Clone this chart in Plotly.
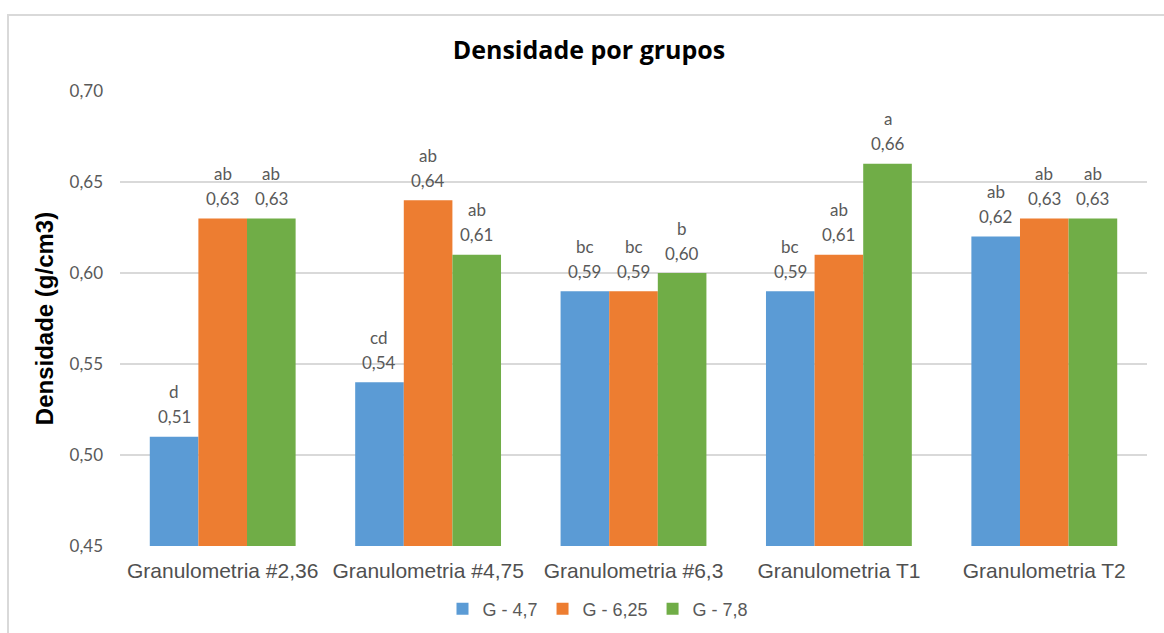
import plotly.graph_objects as go

categories = ["Granulometria #2,36", "Granulometria #4,75", "Granulometria #6,3",
              "Granulometria T1", "Granulometria T2"]
series_names = ["G - 4,7", "G - 6,25", "G - 7,8"]
vals_47 = [0.51, 0.54, 0.59, 0.59, 0.62]
vals_625 = [0.63, 0.64, 0.59, 0.61, 0.63]
vals_78 = [0.63, 0.61, 0.60, 0.66, 0.63]
letters_47 = ["d", "cd", "bc", "bc", "ab"]
letters_625 = ["ab", "ab", "bc", "ab", "ab"]
letters_78 = ["ab", "ab", "b", "a", "ab"]
y_ticks = [0.45, 0.50, 0.55, 0.60, 0.65, 0.70]

colors = ["#5B9BD5", "#ED7D31", "#70AD47"]
series_vals = [vals_47, vals_625, vals_78]
series_letters = [letters_47, letters_625, letters_78]

BARGAP = 0.29
W = 1164
H = 633
ML, MR, MT, MB = 120, 17, 91, 87
label_font = dict(family="Lato, Open Sans, sans-serif", size=17, color="#595959")

fig = go.Figure()
for name, vals, col in zip(series_names, series_vals, colors):
    fig.add_trace(go.Bar(
        x=categories, y=vals, name=name,
        marker=dict(color=col, line=dict(width=0)),
        base=0,
    ))

bw = (1 - BARGAP) / len(series_vals)
annotations = []
for s, (vals, lets) in enumerate(zip(series_vals, series_letters)):
    off = (s - (len(series_vals) - 1) / 2) * bw
    for i, (v, l) in enumerate(zip(vals, lets)):
        annotations.append(dict(x=i + off, y=v, xref="x", yref="y",
                                text=f"{v:.2f}".replace(".", ","), showarrow=False,
                                yanchor="middle", yshift=20, font=label_font))
        annotations.append(dict(x=i + off, y=v, xref="x", yref="y",
                                text=l, showarrow=False,
                                yanchor="middle", yshift=45, font=label_font))

pw = W - ML - MR
ph = H - MT - MB
fig.update_layout(
    width=W, height=H,
    margin=dict(l=ML, r=MR, t=MT, b=MB, autoexpand=False),
    paper_bgcolor="white", plot_bgcolor="white",
    separators=",.",
    barmode="group", bargap=BARGAP, bargroupgap=0,
    title=dict(text="<b>Densidade por grupos</b>", x=589 / W, xanchor="center",
               y=1 - 50 / H, yanchor="middle",
               font=dict(family="Open Sans, sans-serif", size=25, color="black")),
    xaxis=dict(type="category", showgrid=False, showline=False, ticks="",
               tickfont=dict(family="Liberation Sans, Arial, sans-serif", size=21, color="#505050"),
               ticklabelstandoff=10),
    yaxis=dict(range=[0.45, 0.70], tickvals=y_ticks, tickformat=".2f",
               showgrid=True, gridcolor="#D9D9D9", gridwidth=1.5,
               zeroline=False, showline=False, ticks="",
               tickfont=dict(family="Lato, Open Sans, sans-serif", size=17, color="#595959"),
               ticklabelstandoff=16,
               title=dict(text="<b>Densidade (g/cm3)</b>", standoff=9,
                          font=dict(family="Liberation Sans, Arial, sans-serif", size=24, color="black"))),
    legend=dict(orientation="h", xref="container", yref="container",
                x=598 / W, xanchor="center",
                y=1 - 609 / H, yanchor="middle",
                font=dict(family="Liberation Sans, Arial, sans-serif", size=18, color="#595959"),
                itemwidth=30, traceorder="normal"),
    annotations=annotations,
    shapes=[dict(type="rect", xref="paper", yref="paper",
                 x0=(8 - ML) / pw, x1=1.5,
                 y0=-1.0, y1=(MT + ph - 15) / ph,
                 line=dict(color="#D9D9D9", width=2), layer="below")],
)
fig.write_html("out.html", config={"displayModeBar": False},
               post_script="document.body.style.margin='0';")
